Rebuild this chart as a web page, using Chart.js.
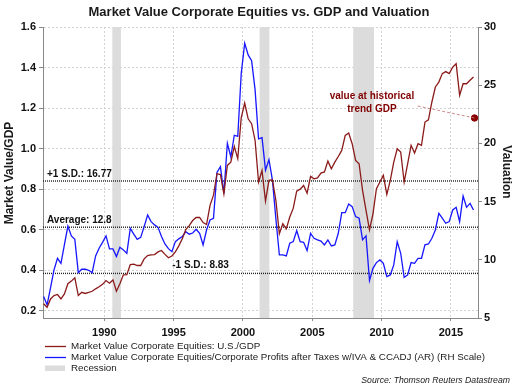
<!DOCTYPE html>
<html lang="en">
<head>
<meta charset="UTF-8">
<title>Market Value Corporate Equities vs. GDP and Valuation</title>
<script src="https://cdn.jsdelivr.net/npm/chart.js"></script>
<style>
    html, body { margin: 0; padding: 0; background: #fff; }
    .chart-box { width: 517px; height: 387px; }
</style>
</head>
<body>
<div class="chart-box"><canvas id="valuation-chart" width="517" height="387"></canvas></div>
<script>
    // quarterly data, first point 1985 Q3
    const firstQuarter = 1985.625;
    const quarterStep = 0.25;

    // Market Value Corporate Equities: U.S./GDP (left scale)
    const gdpRatio = [
        0.234, 0.217, 0.258, 0.275, 0.28, 0.258, 0.283, 0.333, 0.346, 0.362,
        0.275, 0.291, 0.285, 0.29, 0.296, 0.308, 0.318, 0.33, 0.349, 0.336,
        0.352, 0.296, 0.333, 0.377, 0.378, 0.428, 0.43, 0.423, 0.423, 0.456,
        0.472, 0.475, 0.477, 0.49, 0.497, 0.478, 0.461, 0.47, 0.49, 0.52,
        0.555, 0.60, 0.62, 0.645, 0.66, 0.66, 0.635, 0.625, 0.72, 0.77,
        0.876, 0.872, 0.777, 0.917, 0.933, 1.011, 0.95, 1.152, 1.225, 1.147,
        1.123, 1.04, 0.835, 0.892, 0.741, 0.843, 0.846, 0.744, 0.58, 0.629,
        0.604, 0.662, 0.705, 0.79, 0.80, 0.818, 0.78, 0.863, 0.851, 0.855,
        0.879, 0.885, 0.938, 0.90, 0.933, 0.961, 0.991, 1.065, 1.077, 1.024,
        0.942, 0.925, 0.794, 0.695, 0.599, 0.678, 0.802, 0.835, 0.868, 0.774,
        0.843, 0.933, 0.999, 0.983, 0.835, 0.925, 1.016, 0.978, 1.024, 1.016,
        1.131, 1.142, 1.23, 1.304, 1.328, 1.37, 1.38, 1.37, 1.402, 1.419,
        1.263, 1.32, 1.32, 1.337, 1.353
    ];

    // Market Value / Corporate Profits (right scale)
    const valuation = [
        6.85, 6.13, 7.6, 9.13, 10.13, 9.7, 11.3, 12.9, 12.05, 11.76,
        8.9, 9.19, 9.2, 9.1, 8.9, 10.33, 10.99, 11.5, 12.05, 10.94,
        10.94, 10.28, 11.08, 10.85, 10.56, 12.7, 12.2, 11.76, 11.93, 12.85,
        13.85, 13.28, 13.0, 12.79, 12.0, 11.36, 10.96, 10.7, 11.56, 11.8,
        12.0, 12.42, 12.2, 12.3, 12.62, 12.28, 11.28, 12.56, 13.42, 13.56,
        17.5, 18.0, 15.7, 20.0, 18.85, 20.7, 20.6, 26.0, 28.6, 27.6,
        27.1, 24.6, 20.4, 20.5, 17.7, 18.6, 16.85, 13.5, 10.42, 10.42,
        10.33, 11.42, 11.56, 12.5, 11.56, 11.5, 10.79, 12.28, 11.85, 11.71,
        11.6, 11.28, 11.71, 11.19, 11.28, 12.28, 14.05, 14.05, 14.79, 14.57,
        13.71, 13.57, 11.71, 12.05, 8.22, 9.27, 9.76, 9.99, 9.7, 8.56,
        8.7, 9.56, 11.56, 10.56, 8.5, 8.7, 9.76, 9.7, 10.13, 10.13,
        11.28, 11.36, 11.85, 12.56, 13.99, 13.57, 13.14, 13.28, 14.28, 14.51,
        13.28, 15.48, 14.51, 14.85, 14.28
    ];

    const recessions = [[1990.58, 1991.2], [2001.2, 2001.9], [2007.95, 2009.45]];
    const sdLevels = [16.77, 12.8, 8.83];
    const sdLabels = ['+1 S.D.: 16.77', 'Average: 12.8', '-1 S.D.: 8.83'];
    const trendPoint = { x: 2016.7, y: 1.151 };
    const trendLineStart = { x: 2012.6, y: 1.21 };

    const yearTicks = [1990, 1995, 2000, 2005, 2010, 2015];
    const leftTicks = [0.2, 0.4, 0.6, 0.8, 1.0, 1.2, 1.4, 1.6];
    const rightTicks = [5, 10, 15, 20, 25, 30];

    const xMin = 1985.58, xMax = 2016.95;
    const RED = '#8b1a1a';
    const BLUE = '#1616ff';
    const FONT = '"Liberation Sans", Arial, sans-serif';

    const toPoints = arr => arr.map((v, i) => ({ x: firstQuarter + quarterStep * i, y: v }));
    const flatLine = v => [{ x: xMin, y: v }, { x: xMax, y: v }];

    const sdDatasets = sdLevels.map(v => ({
        data: flatLine(v),
        yAxisID: 'y1',
        borderColor: '#222',
        borderWidth: 1.4,
        borderDash: [1, 1],
        pointRadius: 0
    }));

    // recession bands, labels, titles and legend
    const decor = {
        id: 'decor',
        beforeDatasetsDraw(chart) {
            const { ctx, chartArea: a, scales: { x } } = chart;
            ctx.save();
            ctx.fillStyle = '#dcdcdc';
            recessions.forEach(([s, e]) => {
                const x1 = x.getPixelForValue(s), x2 = x.getPixelForValue(e);
                ctx.fillRect(x1, a.top, x2 - x1, a.bottom - a.top);
            });
            ctx.restore();
        },
        afterDatasetsDraw(chart) {
            const { ctx, chartArea: a, scales: { x, y, y1 } } = chart;
            ctx.save();
            ctx.font = 'bold 10px ' + FONT;
            ctx.fillStyle = '#111';
            ctx.textBaseline = 'middle';
            ctx.textAlign = 'left';
            ctx.fillText(sdLabels[0], a.left + 4, y1.getPixelForValue(sdLevels[0]) - 7);
            ctx.fillText(sdLabels[1], a.left + 4, y1.getPixelForValue(sdLevels[1]) - 7);
            ctx.fillText(sdLabels[2], x.getPixelForValue(1994.9), y1.getPixelForValue(sdLevels[2]) - 8);

            ctx.fillStyle = '#800000';
            ctx.textAlign = 'center';
            ctx.fillText('value at historical', x.getPixelForValue(2009.3), y.getPixelForValue(1.26));
            ctx.fillText('trend GDP', x.getPixelForValue(2009.3), y.getPixelForValue(1.196));
            ctx.restore();
        },
        afterDraw(chart) {
            const { ctx } = chart;
            ctx.save();
            ctx.fillStyle = '#1a1a1a';
            ctx.textBaseline = 'middle';
            ctx.textAlign = 'center';
            ctx.font = 'bold 13px ' + FONT;
            ctx.fillText('Market Value Corporate Equities vs. GDP and Valuation', 259, 12);

            ctx.font = 'bold 12px ' + FONT;
            ctx.save();
            ctx.translate(10, 173);
            ctx.rotate(-Math.PI / 2);
            ctx.fillText('Market Value/GDP', 0, 0);
            ctx.restore();
            ctx.save();
            ctx.translate(506, 172);
            ctx.rotate(Math.PI / 2);
            ctx.fillText('Valuation', 0, 0);
            ctx.restore();

            // legend
            ctx.font = '9.8px ' + FONT;
            ctx.textAlign = 'left';
            ctx.lineWidth = 1.3;
            ctx.strokeStyle = RED;
            ctx.beginPath(); ctx.moveTo(45, 346.5); ctx.lineTo(66, 346.5); ctx.stroke();
            ctx.strokeStyle = BLUE;
            ctx.beginPath(); ctx.moveTo(45, 357.5); ctx.lineTo(66, 357.5); ctx.stroke();
            ctx.fillStyle = '#dcdcdc';
            ctx.fillRect(45, 365.5, 20, 5.5);
            ctx.fillStyle = '#1a1a1a';
            ctx.fillText('Market Value Corporate Equities: U.S./GDP', 71, 346.5);
            ctx.fillText('Market Value Corporate Equities/Corporate Profits after Taxes w/IVA & CCADJ (AR) (RH Scale)', 71, 357.5);
            ctx.fillText('Recession', 71, 368.5);

            ctx.font = 'italic 8.7px ' + FONT;
            ctx.textAlign = 'right';
            ctx.fillText('Source: Thomson Reuters Datastream', 510, 381);
            ctx.restore();
        }
    };

    const tickFont = { family: FONT, size: 11, weight: 'bold' };

    new Chart(document.getElementById('valuation-chart'), {
        type: 'line',
        data: {
            datasets: [
                {
                    label: 'Market Value Corporate Equities: U.S./GDP',
                    data: toPoints(gdpRatio),
                    yAxisID: 'y',
                    borderColor: RED,
                    borderWidth: 1.3,
                    pointRadius: 0
                },
                {
                    label: 'Market Value Corporate Equities/Corporate Profits after Taxes w/IVA & CCADJ (AR) (RH Scale)',
                    data: toPoints(valuation),
                    yAxisID: 'y1',
                    borderColor: BLUE,
                    borderWidth: 1.3,
                    pointRadius: 0
                },
                ...sdDatasets,
                {
                    data: [trendLineStart, trendPoint],
                    yAxisID: 'y',
                    borderColor: 'rgba(200,130,130,0.9)',
                    borderWidth: 1,
                    borderDash: [3, 2],
                    pointRadius: 0
                },
                {
                    data: [trendPoint],
                    yAxisID: 'y',
                    showLine: false,
                    pointRadius: 3.2,
                    pointBackgroundColor: '#8b0000',
                    pointBorderColor: '#8b0000'
                }
            ]
        },
        options: {
            responsive: false,
            animation: false,
            events: [],
            layout: { padding: { top: 27, right: 0, bottom: 49, left: 0 } },
            plugins: {
                legend: { display: false },
                tooltip: { enabled: false }
            },
            scales: {
                x: {
                    type: 'linear',
                    min: xMin,
                    max: xMax,
                    afterBuildTicks: s => { s.ticks = yearTicks.map(v => ({ value: v })); },
                    afterFit: s => { s.height = 20; },
                    grid: { color: '#d2d2d2', tickLength: 3, tickColor: '#888' },
                    border: { color: '#888', dash: [2, 2] },
                    ticks: { font: tickFont, color: '#111', padding: 5, maxRotation: 0, autoSkip: false, callback: v => String(v) }
                },
                y: {
                    position: 'left',
                    min: 0.164,
                    max: 1.6,
                    afterBuildTicks: s => { s.ticks = leftTicks.map(v => ({ value: v })); },
                    afterFit: s => { s.width = 43; },
                    grid: { color: '#d2d2d2', tickLength: 4, tickColor: '#888' },
                    border: { color: '#888', dash: [2, 2] },
                    ticks: { font: tickFont, color: '#111', padding: 3, callback: v => v.toFixed(1) }
                },
                y1: {
                    position: 'right',
                    min: 5,
                    max: 30,
                    afterBuildTicks: s => { s.ticks = rightTicks.map(v => ({ value: v })); },
                    afterFit: s => { s.width = 39; },
                    grid: { drawOnChartArea: false, tickLength: 4, tickColor: '#888' },
                    border: { color: '#888' },
                    ticks: { font: tickFont, color: '#111', padding: 2, callback: v => String(v) }
                }
            }
        },
        plugins: [decor]
    });
</script>
</body>
</html>
